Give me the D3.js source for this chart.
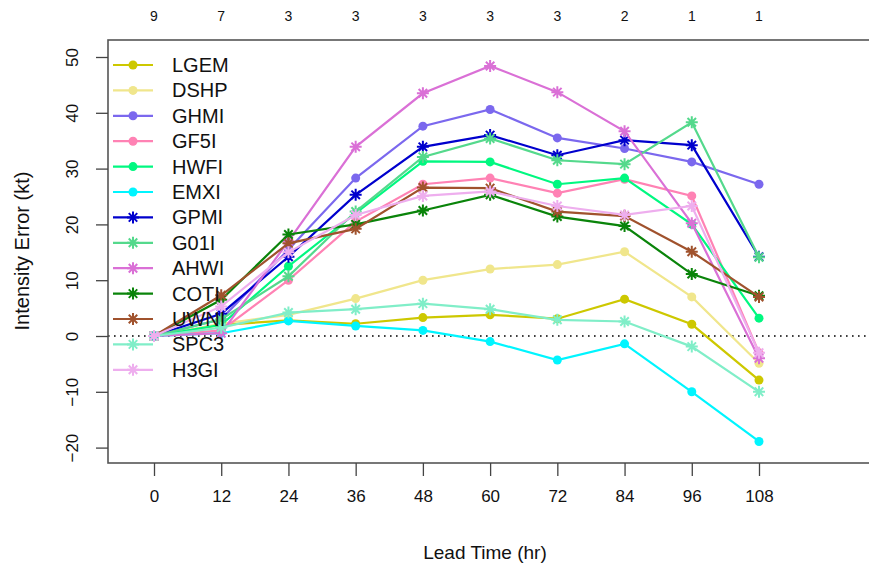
<!DOCTYPE html>
<html>
<head>
<meta charset="utf-8">
<script src="https://cdn.jsdelivr.net/npm/d3@7"></script>
<style>
  html, body { margin: 0; padding: 0; background: #fff; }
  svg { display: block; font-family: "Liberation Sans", Arial, Helvetica, sans-serif; }
</style>
</head>
<body>
<svg id="chart" width="869" height="569"></svg>
<script>
// Lead times (hours) and number of verifying cases at each
const hours = [0, 12, 24, 36, 48, 60, 72, 84, 96, 108];
const caseCounts = [9, 7, 3, 3, 3, 3, 3, 2, 1, 1];
const yTicks = [-20, -10, 0, 10, 20, 30, 40, 50];

// Mean intensity error (kt) per model
const LGEM = [0, 2.0, 2.8, 2.2, 3.3, 3.8, 3.1, 6.6, 2.1, -7.9];
const DSHP = [0, 2.2, 3.8, 6.7, 10.0, 12.0, 12.8, 15.1, 7.0, -4.9];
const GHMI = [0, 3.0, 15.5, 28.3, 37.6, 40.6, 35.5, 33.6, 31.2, 27.2];
const GF5I = [0, 1.0, 10.0, 20.5, 27.2, 28.3, 25.6, 28.1, 25.1, -3.0];
const HWFI = [0, 2.0, 12.5, 22.0, 31.3, 31.2, 27.2, 28.3, 20.0, 3.2];
const EMXI = [0, 0.5, 2.7, 1.8, 1.0, -1.0, -4.3, -1.4, -10.0, -18.9];
const GPMI = [0, 4.0, 14.2, 25.3, 33.9, 36.0, 32.4, 35.1, 34.2, 14.2];
const G01I = [0, 3.0, 10.7, 22.3, 32.1, 35.4, 31.5, 30.8, 38.3, 14.1];
const AHWI = [0, 0.5, 17.0, 33.9, 43.5, 48.4, 43.7, 36.7, 20.2, -4.0];
const COTI = [0, 6.5, 18.2, 20.0, 22.5, 25.3, 21.4, 19.7, 11.1, 7.2];
const UWNI = [0, 7.3, 16.6, 19.2, 26.6, 26.5, 22.3, 21.5, 15.1, 7.0];
const SPC3 = [0, 1.5, 4.2, 4.8, 5.8, 4.8, 2.9, 2.6, -1.9, -10.0];
const H3GI = [0, 5.3, 15.0, 21.7, 25.1, 25.9, 23.3, 21.7, 23.3, -3.0];

const models = [
  { name: "LGEM", values: LGEM, color: "#cdc800", shape: "circle" },
  { name: "DSHP", values: DSHP, color: "#f0e68c", shape: "circle" },
  { name: "GHMI", values: GHMI, color: "#7b68ee", shape: "circle" },
  { name: "GF5I", values: GF5I, color: "#ff82b4", shape: "circle" },
  { name: "HWFI", values: HWFI, color: "#00f880", shape: "circle" },
  { name: "EMXI", values: EMXI, color: "#00f5ff", shape: "circle" },
  { name: "GPMI", values: GPMI, color: "#0000cd", shape: "star" },
  { name: "G01I", values: G01I, color: "#54d98c", shape: "star" },
  { name: "AHWI", values: AHWI, color: "#da70d6", shape: "star" },
  { name: "COTI", values: COTI, color: "#0a840a", shape: "star" },
  { name: "UWNI", values: UWNI, color: "#a0522d", shape: "star" },
  { name: "SPC3", values: SPC3, color: "#80eec8", shape: "star" },
  { name: "H3GI", values: H3GI, color: "#eeaeee", shape: "star" }
];

const svg = d3.select("#chart");
const box = { left: 108, top: 40, right: 875, bottom: 463 };

const x = d3.scaleLinear().domain([0, 108]).range([154, 759]);
const y = d3.scaleLinear().domain([-20, 50]).range([447.6, 57]);

const plot = svg.append("g");

// zero reference line
plot.append("line")
  .attr("x1", box.left).attr("x2", box.right)
  .attr("y1", y(0)).attr("y2", y(0))
  .attr("stroke", "#000").attr("stroke-width", 1.6)
  .attr("stroke-dasharray", "1.6,4.4");

// star (asterisk) marker path centred at 0,0
function starPath(r) {
  const d = r * Math.SQRT1_2;
  return `M${-r},0L${r},0M0,${-r}L0,${r}M${-d},${-d}L${d},${d}M${-d},${d}L${d},${-d}`;
}

const line = d3.line().x((d, i) => x(hours[i])).y(d => y(d));

function drawMarker(g, shape, color, cx, cy) {
  if (shape === "circle") {
    g.append("circle").attr("cx", cx).attr("cy", cy).attr("r", 4.5).attr("fill", color);
  } else {
    g.append("path").attr("d", starPath(6))
      .attr("transform", `translate(${cx},${cy})`)
      .attr("stroke", color).attr("stroke-width", 2).attr("fill", "none");
  }
}

models.forEach(m => {
  const g = plot.append("g");
  g.append("path").datum(m.values)
    .attr("d", line)
    .attr("fill", "none").attr("stroke", m.color).attr("stroke-width", 2.2);
  m.values.forEach((v, i) => drawMarker(g, m.shape, m.color, x(hours[i]), y(v)));
});

// plot frame
svg.append("rect")
  .attr("x", box.left).attr("y", box.top)
  .attr("width", box.right - box.left).attr("height", box.bottom - box.top)
  .attr("fill", "none").attr("stroke", "#555").attr("stroke-width", 1.6);

// bottom axis
const xAxis = svg.append("g").attr("transform", `translate(0,${box.bottom})`)
  .call(d3.axisBottom(x).tickValues(hours).tickSize(13).tickPadding(14).tickFormat(d3.format("d")));
xAxis.select(".domain").remove();
xAxis.selectAll(".tick line").attr("stroke", "#444").attr("stroke-width", 1.3);
xAxis.selectAll(".tick text").attr("font-size", 17).attr("fill", "#111")
  .attr("font-family", "Liberation Sans, Arial, sans-serif");

// left axis with rotated labels
const yAxis = svg.append("g").attr("transform", `translate(${box.left},0)`)
  .call(d3.axisLeft(y).tickValues(yTicks).tickSize(12).tickFormat(d => d < 0 ? "\u2212" + Math.abs(d) : d));
yAxis.select(".domain").remove();
yAxis.selectAll(".tick line").attr("stroke", "#444").attr("stroke-width", 1.3);
yAxis.selectAll(".tick text")
  .attr("font-size", 17).attr("fill", "#111")
  .attr("font-family", "Liberation Sans, Arial, sans-serif")
  .attr("x", null).attr("dy", null)
  .attr("text-anchor", "middle")
  .attr("transform", "translate(-36,0) rotate(-90)")
  .attr("dy", "0.35em");

// number of cases along the top
svg.append("g").selectAll("text").data(caseCounts).join("text")
  .attr("x", (d, i) => x(hours[i])).attr("y", 16)
  .attr("text-anchor", "middle").attr("dominant-baseline", "central")
  .attr("font-size", 14).attr("fill", "#111")
  .text(d => d);

// axis titles
svg.append("text")
  .attr("x", 485).attr("y", 552)
  .attr("text-anchor", "middle").attr("dominant-baseline", "central")
  .attr("font-size", 19).attr("fill", "#111")
  .text("Lead Time (hr)");

svg.append("text")
  .attr("transform", "translate(22,251) rotate(-90)")
  .attr("text-anchor", "middle").attr("dominant-baseline", "central")
  .attr("font-size", 20).attr("fill", "#111")
  .text("Intensity Error (kt)");

// legend
const legend = svg.append("g");
models.forEach((m, i) => {
  const ly = 65 + i * 25.4;
  legend.append("line").attr("x1", 113).attr("x2", 153).attr("y1", ly).attr("y2", ly)
    .attr("stroke", m.color).attr("stroke-width", 2.2);
  drawMarker(legend, m.shape, m.color, 133, ly);
  legend.append("text").attr("x", 172).attr("y", ly)
    .attr("dominant-baseline", "central")
    .attr("font-size", 20).attr("fill", "#111")
    .text(m.name);
});
</script>
</body>
</html>
